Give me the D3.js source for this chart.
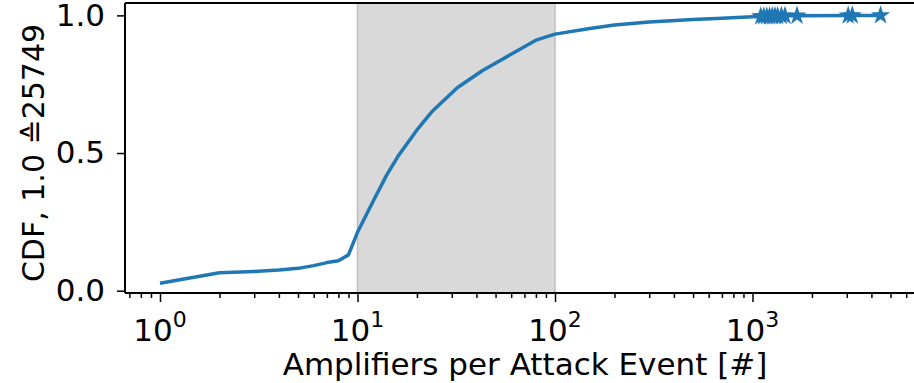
<!DOCTYPE html>
<html>
<head>
<meta charset="utf-8">
<script src="https://cdn.jsdelivr.net/npm/d3@7"></script>
<style>
    body { margin: 0; background: #fff; }
    svg { display: block; font-family: "DejaVu Sans", sans-serif; }
</style>
</head>
<body>
<svg id="chart" width="914" height="383"></svg>
<script>
// amplifiers per attack event and the CDF at that value
var amplifiers = [1, 2, 3, 4, 5, 6, 7, 8, 9, 10, 12, 14, 16, 20, 24, 32, 43, 59, 80, 100,
    150, 200, 300, 500, 700, 1000];
var cdfValues = [0.027, 0.065, 0.070, 0.075, 0.081, 0.091, 0.102, 0.109, 0.130, 0.212, 0.325, 0.418, 0.487, 0.584, 0.653, 0.737, 0.800, 0.856, 0.910, 0.932,
    0.952, 0.965, 0.976, 0.985, 0.990, 0.995];

// tail values drawn with star markers
var tailAmplifiers = [1100, 1140, 1180, 1220, 1260, 1300, 1340, 1400, 1460, 1680, 3050, 3200, 4450];
var tailCdf = [0.996, 0.9962, 0.9965, 0.9968, 0.997, 0.9973, 0.9976, 0.998, 0.9983, 0.9988, 0.9994, 0.9997, 1.0];

var highlightRange = [10, 100];
var xTickExponents = [0, 1, 2, 3];
var yTickValues = [0.0, 0.5, 1.0];
var xLabel = "Amplifiers per Attack Event [#]";
var yLabel = "CDF, 1.0 \u225925749";

var margin = {top: 3, left: 125},
    width = 800,
    height = 290,
    fontSize = 31;

var svg = d3.select("#chart");
var g = svg.append("g")
    .attr("transform", "translate(" + margin.left + "," + margin.top + ")");

var x = d3.scaleLog().domain([0.665, 7470]).range([0, width]);
var y = d3.scaleLinear().domain([-0.0085, 1.045]).range([height, 0]);

// shaded span
g.append("rect")
    .attr("x", x(highlightRange[0]))
    .attr("y", 0)
    .attr("width", x(highlightRange[1]) - x(highlightRange[0]))
    .attr("height", height)
    .attr("fill", "#d9d9d9");
highlightRange.forEach(function(v) {
    g.append("line")
        .attr("x1", x(v)).attr("x2", x(v))
        .attr("y1", 0).attr("y2", height)
        .attr("stroke", "#bfbfbf")
        .attr("stroke-width", 1.5);
});

var allX = amplifiers.concat(tailAmplifiers);
var allY = cdfValues.concat(tailCdf);
var points = allX.map(function(d, i) { return {a: d, c: allY[i]}; });

var line = d3.line()
    .x(function(d) { return x(d.a); })
    .y(function(d) { return y(d.c); });

g.append("path")
    .datum(points)
    .attr("d", line)
    .attr("fill", "none")
    .attr("stroke", "#1f77b4")
    .attr("stroke-width", 3.5)
    .attr("stroke-linejoin", "round");

var star = d3.symbol().type(d3.symbolStar).size(115);
g.selectAll(".star")
    .data(tailAmplifiers)
    .enter().append("path")
    .attr("class", "star")
    .attr("d", star)
    .attr("transform", function(d, i) { return "translate(" + x(d) + "," + y(tailCdf[i]) + ")"; })
    .attr("fill", "#1f77b4");

// x axis with log minor ticks
var xAxis = d3.axisBottom(x)
    .tickValues(xTickExponents.map(function(e) { return Math.pow(10, e); }))
    .tickSize(9)
    .tickFormat("");
var minorTicks = [];
[-1, 0, 1, 2, 3].forEach(function(e) {
    for (var m = 2; m <= 9; m++) {
        var v = m * Math.pow(10, e);
        if (v > x.domain()[0] && v < x.domain()[1]) minorTicks.push(v);
    }
});
var xMinor = d3.axisBottom(x).tickValues(minorTicks).tickSize(5).tickFormat("");

var gx = g.append("g").attr("transform", "translate(0," + height + ")").call(xAxis);
var gxm = g.append("g").attr("transform", "translate(0," + height + ")").call(xMinor);
[gx, gxm].forEach(function(a) {
    a.select(".domain").remove();
    a.selectAll("line").attr("stroke", "#000").attr("stroke-width", 1.5);
});

var xLabels = g.append("g").selectAll("text")
    .data(xTickExponents)
    .enter().append("text")
    .attr("x", function(d) { return x(Math.pow(10, d)); })
    .attr("y", height + 48)
    .attr("text-anchor", "middle")
    .attr("font-size", fontSize)
    .attr("fill", "#000");
xLabels.append("tspan").text("10");
xLabels.append("tspan")
    .attr("font-size", 22)
    .attr("dy", -14)
    .text(function(d) { return d; });

// y axis
var yAxis = d3.axisLeft(y)
    .tickValues(yTickValues)
    .tickSize(8)
    .tickPadding(12)
    .tickFormat(d3.format(".1f"));
var gy = g.append("g").call(yAxis);
gy.select(".domain").remove();
gy.selectAll("line").attr("stroke", "#000").attr("stroke-width", 1.5);
gy.selectAll("text").attr("font-size", fontSize).attr("font-family", "DejaVu Sans").attr("fill", "#000");

// spines
g.append("line").attr("x1", 0).attr("x2", 0).attr("y1", 0).attr("y2", height)
    .attr("stroke", "#000").attr("stroke-width", 2);
g.append("line").attr("x1", 0).attr("x2", width).attr("y1", height).attr("y2", height)
    .attr("stroke", "#000").attr("stroke-width", 2);
g.append("line").attr("x1", 0).attr("x2", width).attr("y1", 0).attr("y2", 0)
    .attr("stroke", "#000").attr("stroke-width", 2);

// labels
svg.append("text")
    .attr("x", margin.left + width / 2)
    .attr("y", 375)
    .attr("text-anchor", "middle")
    .attr("font-size", fontSize)
    .text(xLabel);

svg.append("text")
    .attr("transform", "translate(44," + (margin.top + 150) + ") rotate(-90)")
    .attr("text-anchor", "middle")
    .attr("font-size", 30)
    .text(yLabel);
</script>
</body>
</html>
